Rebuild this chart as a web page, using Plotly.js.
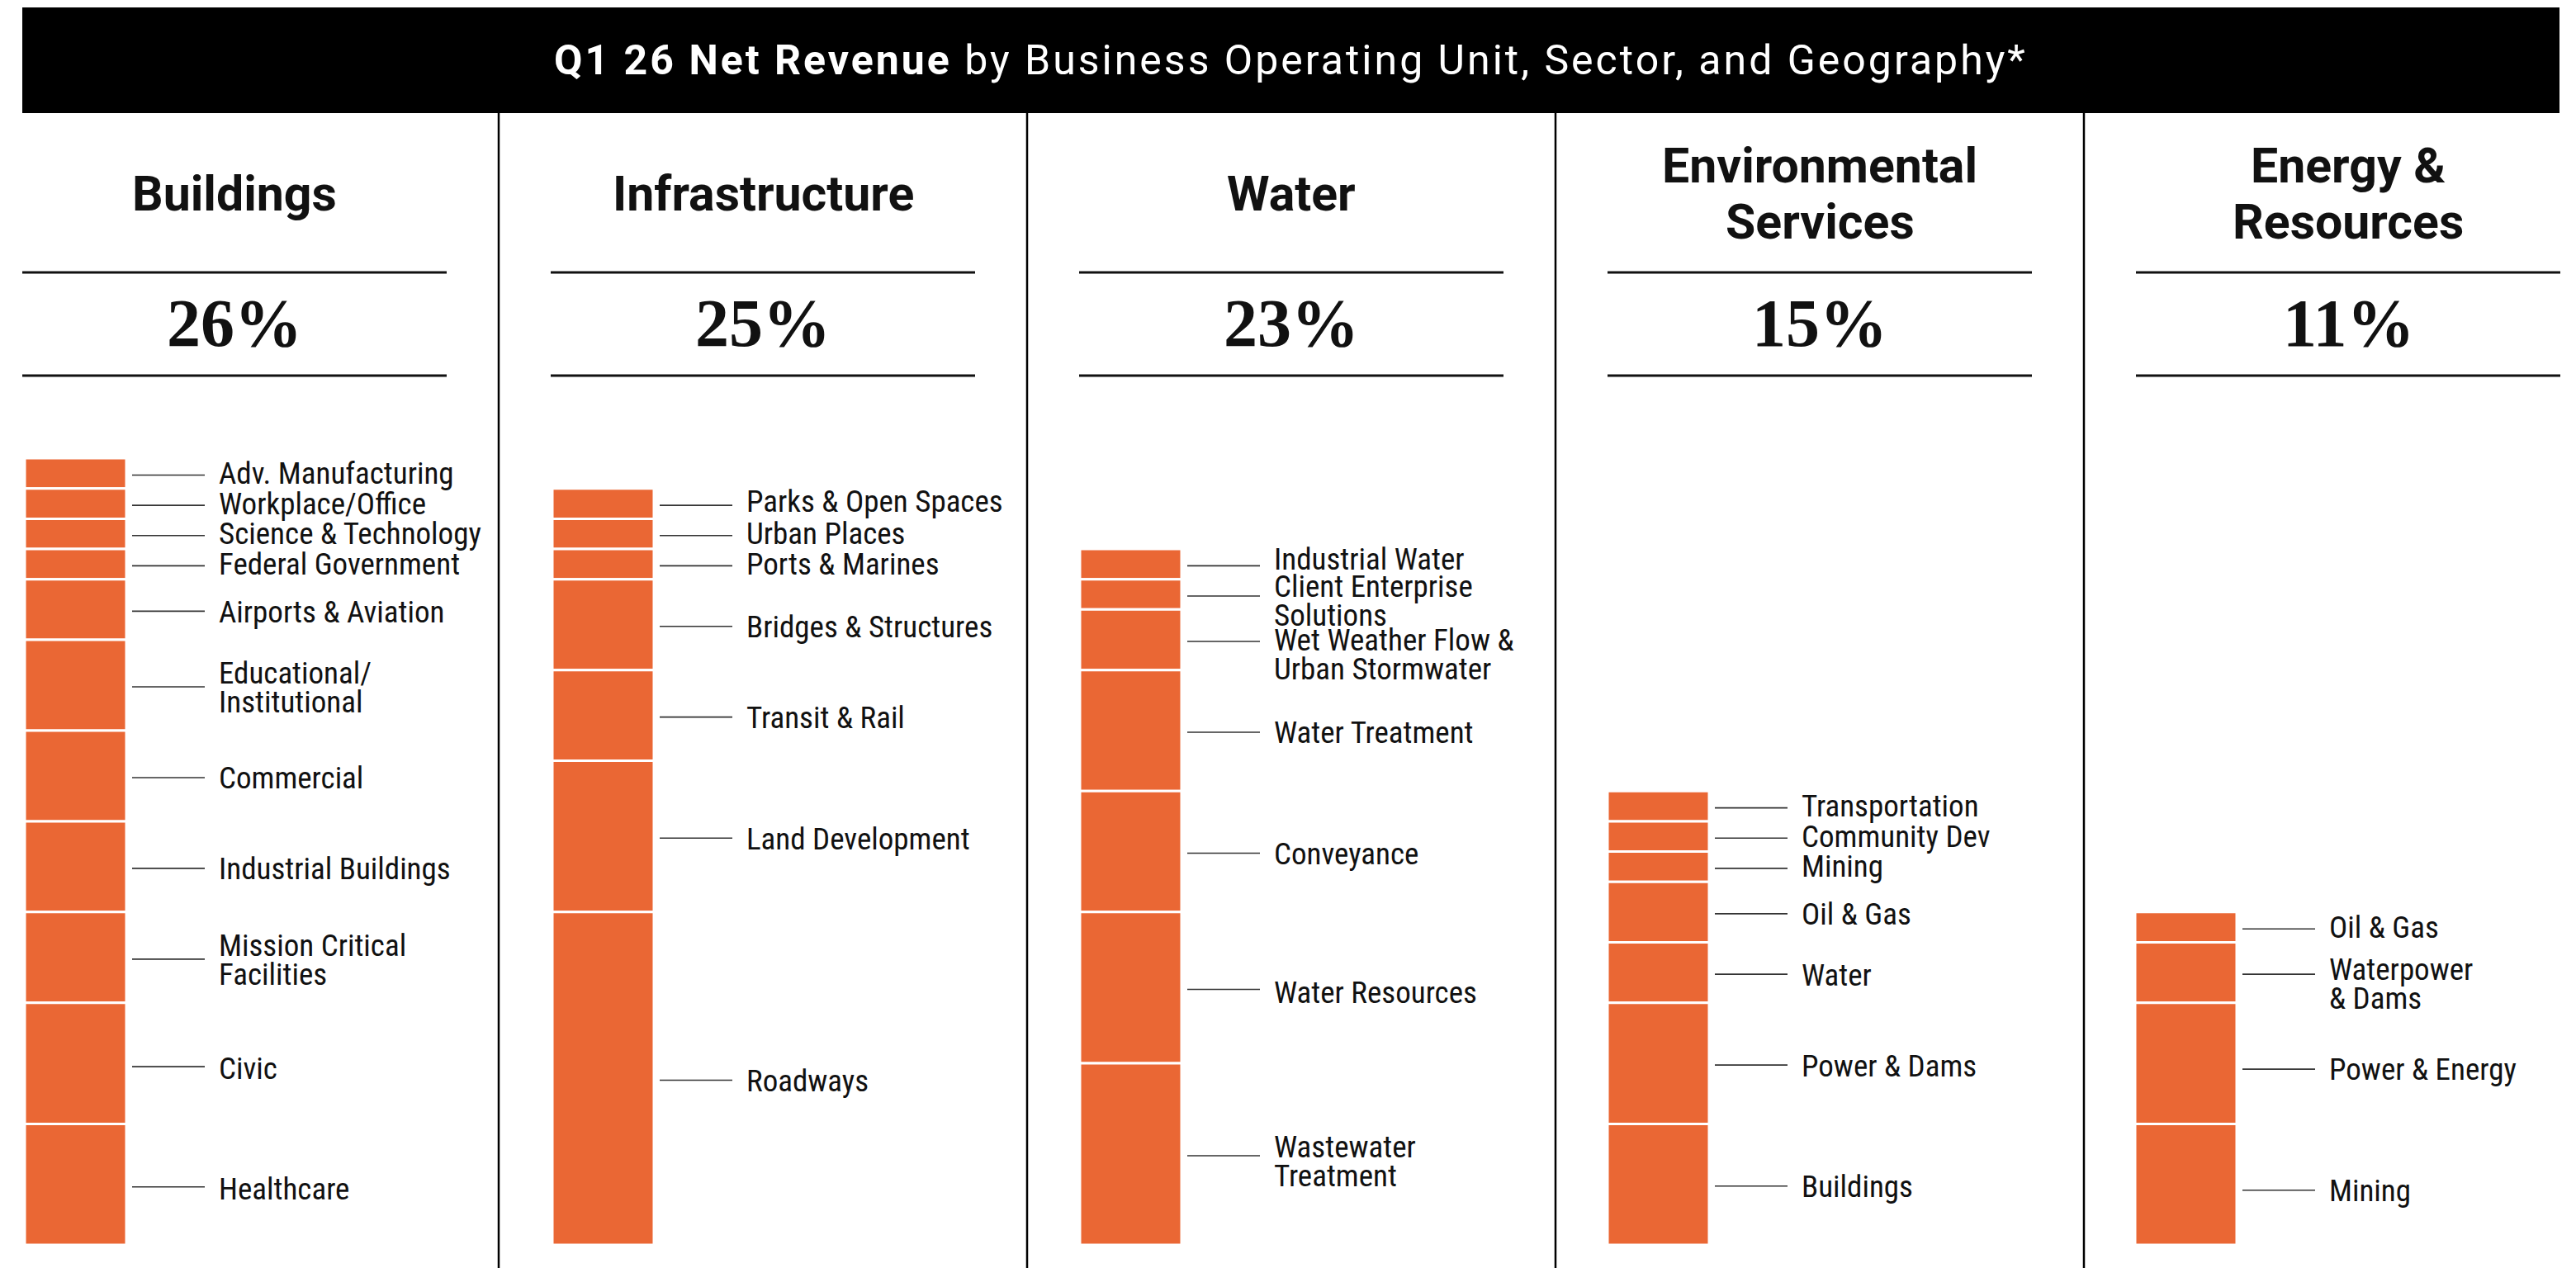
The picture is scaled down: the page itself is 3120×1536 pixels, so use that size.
<!DOCTYPE html>
<html>
<head>
<meta charset="utf-8">
<script src="https://cdn.plot.ly/plotly-3.0.1.min.js"></script>
<style>
  html, body { margin: 0; padding: 0; background: #ffffff; }
  #chart { width: 3120px; height: 1536px; }
  #chart g.annotation[data-index="0"] text { letter-spacing: 3px; }
</style>
</head>
<body>
<div id="chart"></div>
<script>
// ---------------- DATA ----------------
const titleBold = "Q1 26 Net Revenue";
const titleRest = "by Business Operating Unit, Sector, and Geography*";

const units = ["Buildings", "Infrastructure", "Water", "Environmental\nServices", "Energy &\nResources"];
const unitShares = [26, 25, 23, 15, 11];

const buildingsSectors = ["Adv. Manufacturing", "Workplace/Office", "Science & Technology", "Federal Government",
  "Airports & Aviation", "Educational/\nInstitutional", "Commercial", "Industrial Buildings",
  "Mission Critical\nFacilities", "Civic", "Healthcare"];
const buildingsValues = [1, 1, 1, 1, 2, 3, 3, 3, 3, 4, 4];

const infrastructureSectors = ["Parks & Open Spaces", "Urban Places", "Ports & Marines", "Bridges & Structures",
  "Transit & Rail", "Land Development", "Roadways"];
const infrastructureValues = [1, 1, 1, 3, 3, 5, 11];

const waterSectors = ["Industrial Water", "Client Enterprise\nSolutions", "Wet Weather Flow &\nUrban Stormwater",
  "Water Treatment", "Conveyance", "Water Resources", "Wastewater\nTreatment"];
const waterValues = [1, 1, 2, 4, 4, 5, 6];

const environmentalSectors = ["Transportation", "Community Dev", "Mining", "Oil & Gas", "Water", "Power & Dams", "Buildings"];
const environmentalValues = [1, 1, 1, 2, 2, 4, 4];

const energySectors = ["Oil & Gas", "Waterpower\n& Dams", "Power & Energy", "Mining"];
const energyValues = [1, 2, 4, 4];

const sectorLists = [buildingsSectors, infrastructureSectors, waterSectors, environmentalSectors, energySectors];
const valueLists = [buildingsValues, infrastructureValues, waterValues, environmentalValues, energyValues];

// ---------------- LAYOUT / STYLE ----------------
const W = 3120, H = 1536;
const ORANGE = "#EA6734";
const INK = "#111111";
const pxPerUnit = 36.65;          // pixels per percentage point
const baselinePx = 1508;          // pixel row of value 0
const colStep = 639;              // column spacing for bars
const barLeft0 = 30, barW = 123;
const leadX0 = 130, leadX1 = 218, labelX = 233;
const hdrStep = 640, hdrLeft0 = 27, hdrLen = 514;
const dividerX0 = 604, dividerStep = 640;
const labelFont = {family: "Roboto Condensed, Liberation Sans Narrow, Roboto, sans-serif", size: 37, color: INK};
const labelLineGap = 35;
const labelShiftThin = 0, labelShiftThick = 3, leaderShiftAll = 2;   // px downward
// vertical nudges (px, downward) for labels squeezed by neighbours; keyed "column|label"
const labelNudge = {"2|Industrial Water": -6, "2|Client Enterprise\nSolutions": 8,
  "2|Wet Weather Flow &\nUrban Stormwater": 15, "2|Wastewater\nTreatment": 6, "2|Water Resources": 3,
  "4|Waterpower\n& Dams": 11, "4|Power & Energy": 4, "4|Mining": 5,
  "0|Civic": 3, "0|Healthcare": 3, "1|Parks & Open Spaces": -3};
const leaderNudge = {"4|Power & Energy": 5, "4|Mining": 5, "0|Civic": 2, "0|Healthcare": 1};

const py = px => 1 - px / H;  // pixel row -> paper y

const traces = [];
const annotations = [];
const shapes = [];

// Title (annotation index 0)
annotations.push({xref: "x", yref: "paper", x: 1563, y: py(73), xanchor: "center", yanchor: "middle",
  showarrow: false, text: "<b>" + titleBold + "</b> " + titleRest,
  font: {family: "Roboto, sans-serif", size: 50, color: "#ffffff"}});
// Title bar
shapes.push({type: "rect", xref: "x", yref: "paper", x0: 27, x1: 3100, y0: py(137), y1: py(9),
  fillcolor: "#000000", line: {width: 0}, layer: "below"});

// Column dividers
for (let i = 0; i < 4; i++) {
  const x = dividerX0 + dividerStep * i;
  shapes.push({type: "line", xref: "x", yref: "paper", x0: x, x1: x, y0: 0, y1: py(137),
    line: {color: "#000000", width: 2.5}});
}

function multiLine(text, x, yc, yrefName, font, gap, xanchor, nudge) {
  const lines = text.split("\n");
  const n = lines.length;
  lines.forEach((ln, k) => {
    const off = (k - (n - 1) / 2) * gap + (nudge || 0); // px downward
    annotations.push({xref: "x", yref: yrefName, x: x, y: yc, xanchor: xanchor, yanchor: "middle",
      showarrow: false, text: ln, font: font, yshift: -off});
  });
}

units.forEach((u, i) => {
  const hx = hdrLeft0 + hdrStep * i;
  const hc = hx + hdrLen / 2;
  // header rules
  [330, 455].forEach(yy => shapes.push({type: "line", xref: "x", yref: "paper", x0: hx, x1: hx + hdrLen,
    y0: py(yy), y1: py(yy), line: {color: INK, width: 3}}));
  // unit name
  multiLine(u, hc, py(234), "paper", {family: "Roboto, sans-serif", size: 59, color: INK, weight: 700}, 68, "center", 0);
  // share
  annotations.push({xref: "x", yref: "paper", x: hc, y: py(391), xanchor: "center", yanchor: "middle",
    showarrow: false, text: "<b>" + unitShares[i] + "%</b>",
    font: {family: "Liberation Serif, Times New Roman, serif", size: 82, color: INK}});

  // stacked bar
  const names = sectorLists[i], vals = valueLists[i];
  const bases = [], mids = [];
  for (let k = 0; k < vals.length; k++) {
    let below = 0;
    for (let j = k + 1; j < vals.length; j++) below += vals[j];
    bases.push(below);
    mids.push(below + vals[k] / 2);
  }
  const bl = barLeft0 + colStep * i;
  traces.push({type: "bar", x: vals.map(() => bl + barW / 2), y: vals, base: bases, width: barW,
    marker: {color: ORANGE, line: {color: "#ffffff", width: 3}},
    text: names.map(n => n.replace(/\n/g, " ")), hoverinfo: "text", textposition: "none",
    showlegend: false});

  // leaders
  const lx = [], ly = [];
  mids.forEach((m, k) => {
    const sh = (leaderShiftAll + (leaderNudge[i + "|" + names[k]] || 0)) / pxPerUnit;
    lx.push(bl + leadX0, bl + leadX1, null); ly.push(m - sh, m - sh, null);
  });
  traces.push({type: "scatter", mode: "lines", x: lx, y: ly, line: {color: "#333333", width: 1.6},
    hoverinfo: "skip", showlegend: false});

  // labels
  names.forEach((n, k) => {
    const base = vals[k] > 1 ? labelShiftThick : labelShiftThin;
    multiLine(n, bl + labelX, mids[k], "y", labelFont, labelLineGap, "left",
      base + (labelNudge[i + "|" + n] || 0));
  });
});

const layout = {
  width: W, height: H,
  margin: {l: 0, r: 0, t: 0, b: 0, pad: 0},
  paper_bgcolor: "#ffffff", plot_bgcolor: "#ffffff",
  barmode: "overlay",
  xaxis: {range: [0, W], showgrid: false, zeroline: false, showticklabels: false, showline: false, fixedrange: true},
  yaxis: {range: [-(H - baselinePx) / pxPerUnit, baselinePx / pxPerUnit], showgrid: false, zeroline: false,
    showticklabels: false, showline: false, fixedrange: true},
  shapes: shapes,
  annotations: annotations,
  showlegend: false
};

Plotly.newPlot("chart", traces, layout, {displayModeBar: false, staticPlot: true});
</script>
</body>
</html>
